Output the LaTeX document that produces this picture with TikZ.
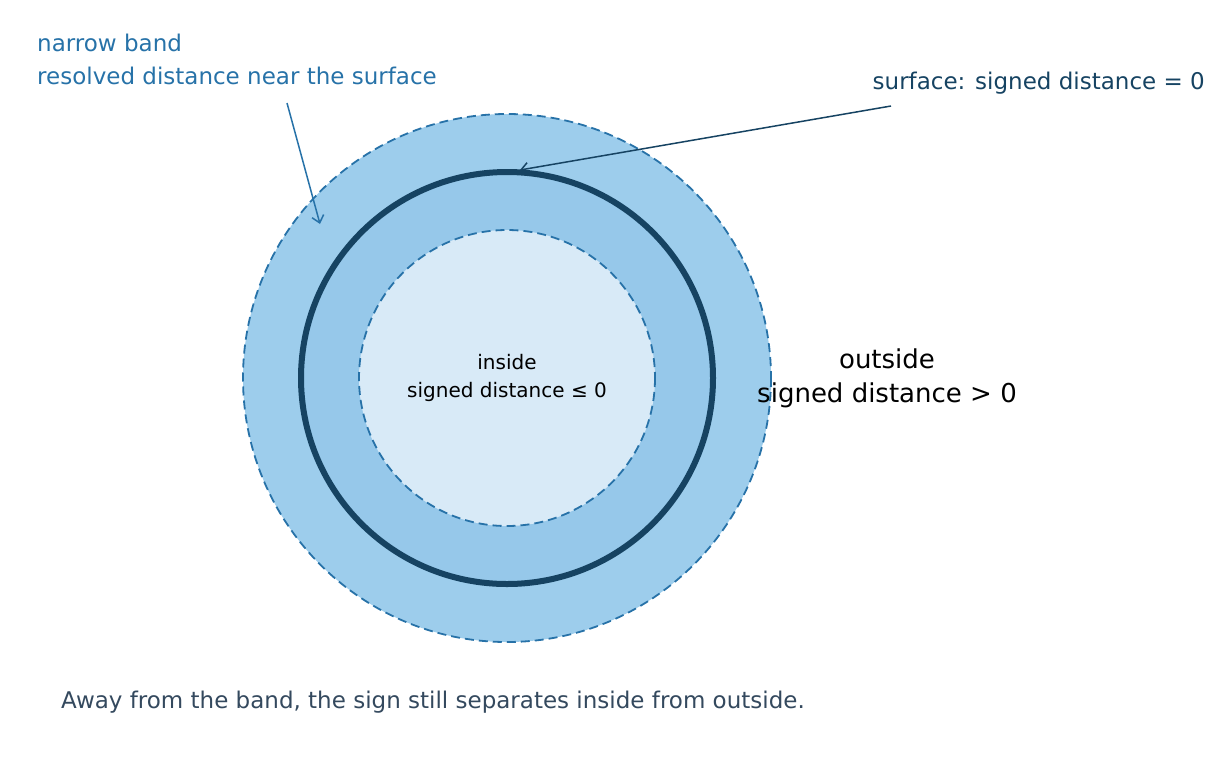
\documentclass[tikz,border=0pt]{standalone}
\usepackage{fontspec}
\setmainfont{DejaVu Sans}
\usetikzlibrary{positioning, arrows.meta}
\definecolor{bandfill}{RGB}{157,205,236}
\definecolor{midfill}{RGB}{150,200,234}
\definecolor{infill}{RGB}{216,234,247}
\definecolor{bandline}{RGB}{39,114,168}
\definecolor{surfline}{RGB}{22,67,98}
\definecolor{notecol}{RGB}{52,73,94}
\tikzset{
  ring/.style={draw=bandline, line width=1.8pt, dash pattern={on 9pt off 5pt}},
  callout/.style={line width=1.5pt, -{Straight Barb[length=7pt, width=12pt]}},
  lbl/.style={inner sep=0pt, align=left}
}
\begin{document}
\begin{tikzpicture}[x=1pt,y=-1pt]
	\useasboundingbox (0,0) rectangle (1222,756);

	% rings
	\draw [ring, fill=bandfill] (507,378) circle (264);
	\draw [draw=surfline, line width=6pt, fill=midfill] (507,378) circle (206);
	\draw [ring, fill=infill] (507,378) circle (148);
	\coordinate (surf) at (520,170);
	\coordinate (band) at (320,224);

	% labels
	\node (narrow) [lbl, anchor=north west, text=bandline, font=\fontsize{23}{33}\selectfont] at (37,34) {narrow band\\resolved distance near the surface};
	\node (surface) [lbl, anchor=north east, text=surfline, font=\fontsize{23}{28}\selectfont] at (1205,72) {surface: signed distance = 0};
	\node (inside) [lbl, align=center, font=\fontsize{20}{28}\selectfont] at (507,378) {inside\\signed distance ≤ 0};
	\node (outside) [lbl, align=center, font=\fontsize{26}{34}\selectfont] at (887,378) {outside\\signed distance > 0};
	\node (note) [lbl, anchor=north west, text=notecol, font=\fontsize{23}{28}\selectfont] at (61,691) {Away from the band, the sign still separates inside from outside.};

	% callouts
	\draw [callout, bandline] (287,103) -- (band);
	\draw [callout, surfline] (891,106) -- (surf);
\end{tikzpicture}
\end{document}
